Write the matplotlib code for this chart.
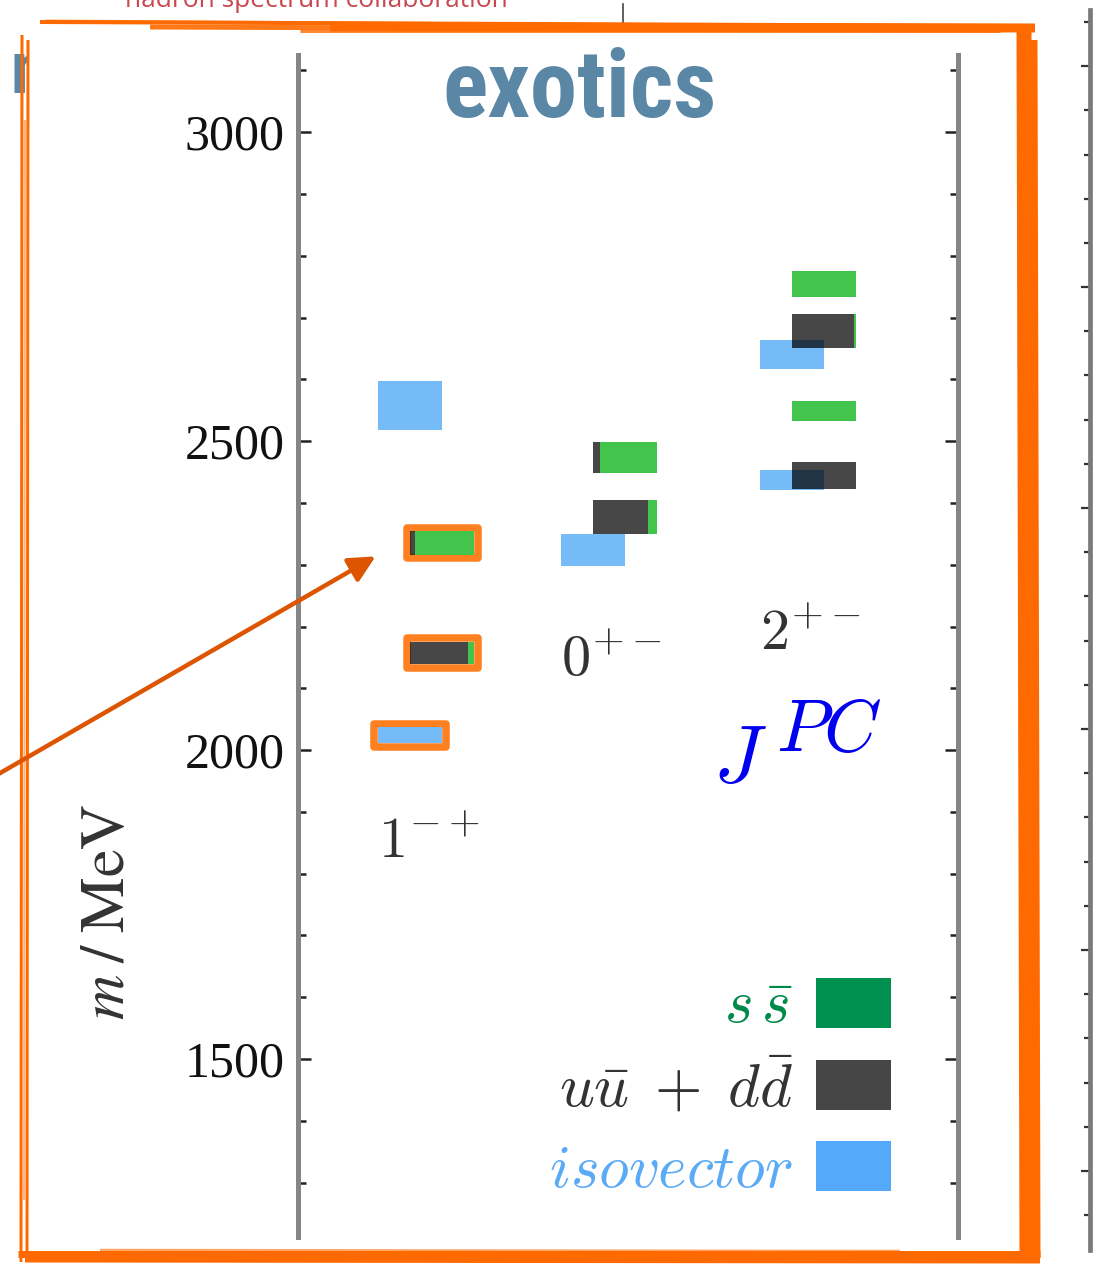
import numpy as np
import matplotlib.pyplot as plt
from matplotlib.patches import Rectangle, FancyArrowPatch
from matplotlib.lines import Line2D
from matplotlib.ticker import MultipleLocator, NullFormatter

W, H = 1107, 1265

# channels (J^PC)
channels = [r'$1^{-+}$', r'$0^{+-}$', r'$2^{+-}$']

# isovector states
iso_chan = [0, 0, 1, 2, 2]
iso_mass = [2558, 2024, 2324, 2640, 2437]
iso_err = [40, 13, 26, 24, 16]
iso_marked = [False, True, False, False, False]

# isoscalar states, light (u ubar + d dbar) fraction drawn on the left
isc_chan = [0, 0, 1, 1, 2, 2, 2, 2]
isc_mass = [2335, 2157, 2473, 2377, 2754, 2678, 2549, 2444]
isc_err = [19, 18, 25, 27, 21, 28, 16, 22]
isc_light = [0.07, 0.90, 0.10, 0.85, 0.0, 0.97, 0.0, 1.0]
isc_marked = [True, True, False, False, False, False, False, False]

yticks = [1500, 2000, 2500, 3000]
legend_labels = [r'$s\,\bar{s}$', r'$u\bar{u}\;+\;d\bar{d}$', r'$isovector$']

# colours
c_ss = '#43c44d'
c_iso = '#75bbf8'
c_ring = '#ff8020'
leg_patch = ['#009150', '#464646', '#55a9fa']
leg_text = ['#008a4a', '#333333', '#5aabf5']

# layout
x_pos = [1.0, 1.963, 3.01]
label_y = [1825, 2120, 2162]
box_w = 0.337
shift = 0.085
xlim = (0.326, 3.8)
ylim = (1212, 3125)
title_font = ['Roboto Condensed', 'Liberation Sans Narrow', 'Liberation Sans', 'DejaVu Sans']


def fx(x):
    return x / W


def fy(y):
    return 1 - y / H


fig = plt.figure(figsize=(W / 100, H / 100), dpi=100)

# background slide pieces
fig.text(fx(125), fy(7), 'hadron spectrum collaboration', family=['Open Sans', 'DejaVu Sans'],
         fontsize=19, color='#c9474f', va='baseline', ha='left', zorder=-3)
fig.text(fx(11), fy(93), 'n', family=title_font, weight='bold',
         fontsize=54, color='#5b87a6', va='baseline', ha='left', zorder=-3)
fig.add_artist(Line2D([fx(623), fx(623)], [fy(4), fy(26)], color='#444444', lw=1.2, zorder=-3))
fig.add_artist(Rectangle((fx(28), fy(1252)), fx(1020 - 28), (1252 - 27) / H,
                         transform=fig.transFigure, facecolor='white', edgecolor='none', zorder=-2))

# partial axis of the neighbouring panel
ax2 = fig.add_axes([fx(1090), fy(1250), 0.002, (1250 - 10) / H])
ax2.set_facecolor('none')
for s in ['top', 'bottom', 'right']:
    ax2.spines[s].set_visible(False)
ax2.spines['left'].set_color('#7a7a7a')
ax2.spines['left'].set_linewidth(3.4)
ax2.set_ylim(-1.787, 26.27)
ax2.yaxis.set_major_locator(MultipleLocator(5))
ax2.yaxis.set_minor_locator(MultipleLocator(1))
ax2.yaxis.set_major_formatter(NullFormatter())
ax2.tick_params(axis='y', which='major', direction='out', length=6.5, width=1.6, color='#333333')
ax2.tick_params(axis='y', which='minor', direction='out', length=4.3, width=1.6, color='#333333')
ax2.set_xticks([])

# main spectrum axes
ax = fig.add_axes([fx(298), fy(1237), fx(660), 1182 / H])
ax.set_xlim(*xlim)
ax.set_ylim(*ylim)

# pixel size in data units for the highlight rings
dx = 3.6 * (xlim[1] - xlim[0]) / 660
dy = 3.6 * (ylim[1] - ylim[0]) / 1182

for c, m, e, mk in zip(iso_chan, iso_mass, iso_err, iso_marked):
    x0 = x_pos[c] - shift - box_w / 2
    ax.add_patch(Rectangle((x0, m - e), box_w, 2 * e, facecolor=c_iso, edgecolor='none', zorder=2))
    if mk:
        ax.add_patch(Rectangle((x0 - dx, m - e - dy), box_w + 2 * dx, 2 * e + 2 * dy, facecolor='none',
                               edgecolor=c_ring, lw=5.4, joinstyle='round', zorder=1))

for c, m, e, f, mk in zip(isc_chan, isc_mass, isc_err, isc_light, isc_marked):
    x0 = x_pos[c] + shift - box_w / 2
    if f > 0:
        ax.add_patch(Rectangle((x0, m - e), box_w * f, 2 * e, facecolor='black', alpha=0.72,
                               edgecolor='none', zorder=3))
    if f < 1:
        ax.add_patch(Rectangle((x0 + box_w * f, m - e), box_w * (1 - f), 2 * e, facecolor=c_ss,
                               edgecolor='none', zorder=3))
    if mk:
        ax.add_patch(Rectangle((x0 - dx, m - e - dy), box_w + 2 * dx, 2 * e + 2 * dy, facecolor='none',
                               edgecolor=c_ring, lw=5.4, joinstyle='round', zorder=1))

for i, lab in enumerate(channels):
    ax.text(x_pos[i] - shift - box_w / 2, label_y[i], lab, ha='left', va='baseline', fontsize=42,
            color='#333333', math_fontfamily='cm')

for s in ['top', 'bottom']:
    ax.spines[s].set_visible(False)
for s in ['left', 'right']:
    ax.spines[s].set_color('#858585')
    ax.spines[s].set_linewidth(3.6)
ax.set_xticks([])
ax.set_yticks(yticks)
ax.set_yticklabels([str(t) for t in yticks], family=['Liberation Serif', 'DejaVu Serif'],
                   fontsize=36, color='#111111')
ax.yaxis.set_minor_locator(MultipleLocator(100))
ax.tick_params(axis='y', which='both', direction='in', left=True, right=True, color='#222222')
ax.tick_params(axis='y', which='major', length=9.4, width=1.8, pad=9.4)
ax.tick_params(axis='y', which='minor', length=5.8, width=1.8)

# y label
fig.text(fx(107), fy(912), r'$m\;/\;\mathrm{MeV}$', rotation=90, ha='center', va='center',
         fontsize=45, color='#333333', math_fontfamily='stix')

# J^PC, with the large superscript of the original
fig.text(fx(713), fy(782), r'$J$', ha='left', va='baseline', fontsize=59, color='#0000ee',
         math_fontfamily='cm')
fig.text(fx(776), fy(751), r'$PC$', ha='left', va='baseline', fontsize=53, color='#0000ee',
         math_fontfamily='cm')

# legend
leg_base = [1023, 1107, 1187]
leg_top = [978, 1060, 1141]
for lab, pc, tc, b, t in zip(legend_labels, leg_patch, leg_text, leg_base, leg_top):
    fig.add_artist(Rectangle((fx(816), fy(t + 50)), fx(75), 50 / H, transform=fig.transFigure,
                             facecolor=pc, edgecolor='none', zorder=4))
    fig.text(fx(793), fy(b), lab, ha='right', va='baseline', fontsize=44, color=tc, math_fontfamily='cm')

# title, shrunk to the width of the condensed original if only a wide face is found
title = fig.text(fx(579), fy(117), 'exotics', ha='center', va='baseline', fontsize=68, weight='bold',
                 family=title_font, stretch='condensed', color='#5b87a6', zorder=8)
fig.canvas.draw()
tw = title.get_window_extent().width
if tw > 290:
    title.set_fontsize(68 * 290 / tw)

# hand drawn frame
orange = '#ff6a00'
strokes = [
    (40, 22, 1035, 26, 4, 1.0), (330, 27, 1035, 28, 9, 1.0), (46, 21, 520, 24, 3, 0.7),
    (150, 27, 700, 29, 5, 0.9), (300, 31, 1000, 31, 3, 0.8),
    (1021, 25, 1024, 1262, 9, 1.0), (1027, 28, 1030, 1262, 9, 1.0), (1034, 40, 1037, 1258, 7, 1.0),
    (1019, 200, 1021, 1100, 3, 0.6),
    (18, 1254, 1040, 1254, 7, 1.0), (25, 1259, 1040, 1260, 7, 1.0), (100, 1250, 900, 1251, 2.5, 0.6),
    (22, 35, 21, 1262, 3, 1.0), (28, 40, 27, 1255, 3, 1.0), (25, 120, 24, 1200, 2, 0.5),
]
for x0, y0, x1, y1, lw, a in strokes:
    fig.add_artist(Line2D([fx(x0), fx(x1)], [fy(y0), fy(y1)], color=orange, lw=lw * 0.72, alpha=a,
                          solid_capstyle='butt', zorder=7))

# arrow
fig.add_artist(FancyArrowPatch((fx(-5), fy(776)), (fx(378), fy(555)), transform=fig.transFigure,
                               arrowstyle='-|>', mutation_scale=40, lw=3.2, color='#dd5500', zorder=9))

fig.savefig('out.png', dpi=100)
